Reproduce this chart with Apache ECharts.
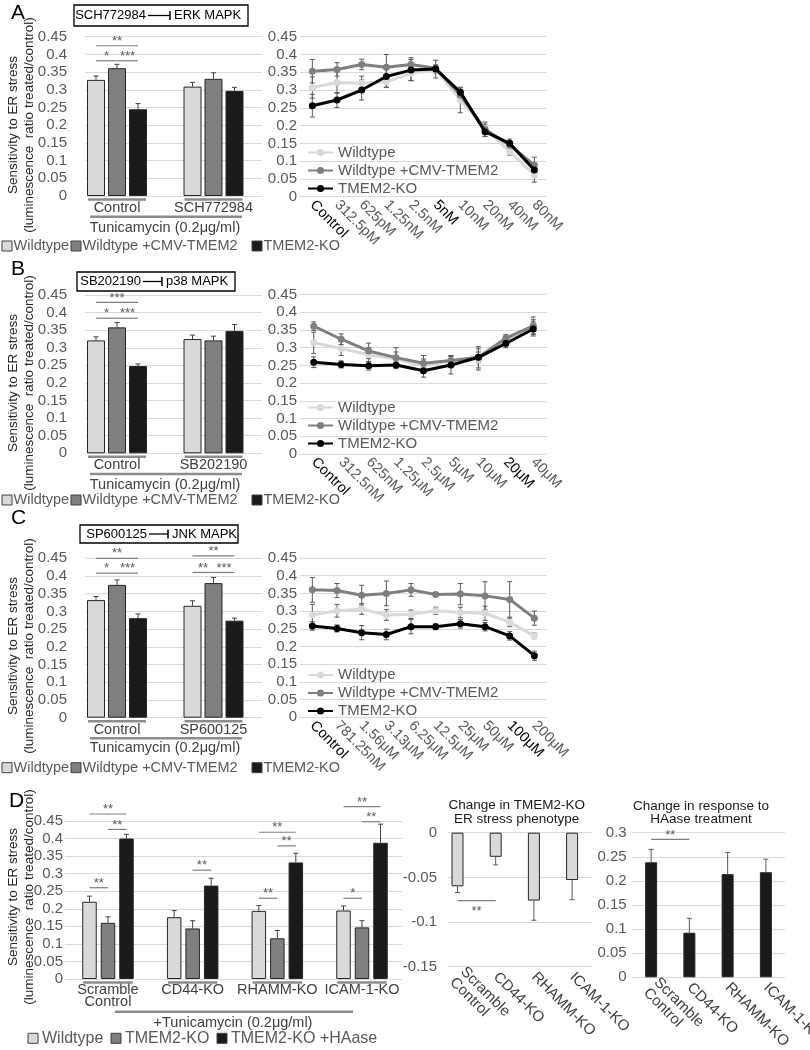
<!DOCTYPE html>
<html><head><meta charset="utf-8">
<script src="https://cdn.jsdelivr.net/npm/echarts@6/dist/echarts.min.js"></script>
<style>html,body{margin:0;padding:0;background:#fff}#c{width:810px;height:1050px}</style>
</head><body><div id="c"></div>
<script>
// ---------------- DATA ----------------
const groupNames = ['Wildtype', 'Wildtype +CMV-TMEM2', 'TMEM2-KO'];
const groupNamesD = ['Wildtype', 'TMEM2-KO', 'TMEM2-KO +HAase'];

// Panel A
const catsBarA = ['Control', 'SCH772984'];
const barA_WT = [0.328, 0.309],  barA_WT_err = [0.011, 0.012];
const barA_CMV = [0.361, 0.331], barA_CMV_err = [0.011, 0.017];
const barA_KO = [0.245, 0.297],  barA_KO_err = [0.016, 0.010];
const catsLineA = ['Control','312.5pM','625pM','1.25nM','2.5nM','5nM','10nM','20nM','40nM','80nM'];
const darkLineA = [0, 5];
const lineA_WT  = [0.307,0.321,0.319,0.323,0.347,0.358,0.272,0.192,0.127,0.061];
const lineA_WT_err  = [0.030,0.030,0.020,0.015,0.020,0.010,0.036,0.012,0.010,0.020];
const lineA_CMV = [0.353,0.358,0.372,0.364,0.372,0.361,0.286,0.190,0.145,0.089];
const lineA_CMV_err = [0.033,0.019,0.015,0.036,0.019,0.010,0.015,0.020,0.010,0.022];
const lineA_KO  = [0.256,0.272,0.300,0.338,0.356,0.359,0.294,0.183,0.150,0.075];
const lineA_KO_err  = [0.032,0.021,0.028,0.031,0.030,0.025,0.012,0.014,0.012,0.012];

// Panel B
const catsBarB = ['Control', 'SB202190'];
const barB_WT = [0.321, 0.325],  barB_WT_err = [0.010, 0.011];
const barB_CMV = [0.358, 0.321], barB_CMV_err = [0.014, 0.012];
const barB_KO = [0.248, 0.348],  barB_KO_err = [0.006, 0.018];
const catsLineB = ['Control','312.5nM','625nM','1.25μM','2.5μM','5μM','10μM','20μM','40μM'];
const darkLineB = [0, 7];
const lineB_WT  = [0.314,0.298,0.280,0.268,0.248,0.263,0.267,0.322,0.359];
const lineB_WT_err  = [0.030,0.020,0.020,0.020,0.020,0.015,0.030,0.010,0.020];
const lineB_CMV = [0.361,0.324,0.291,0.272,0.256,0.264,0.273,0.327,0.362];
const lineB_CMV_err = [0.012,0.015,0.022,0.028,0.022,0.012,0.015,0.010,0.025];
const lineB_KO  = [0.259,0.253,0.249,0.251,0.235,0.251,0.273,0.312,0.353];
const lineB_KO_err  = [0.015,0.010,0.012,0.010,0.018,0.025,0.030,0.012,0.020];

// Panel C
const catsBarC = ['Control', 'SP600125'];
const barC_WT = [0.332, 0.316],  barC_WT_err = [0.010, 0.014];
const barC_CMV = [0.375, 0.380], barC_CMV_err = [0.014, 0.016];
const barC_KO = [0.281, 0.274],  barC_KO_err = [0.012, 0.007];
const catsLineC = ['Control','781.25nM','1.56μM','3.13μM','6.25μM','12.5μM','25μM','50μM','100μM','200μM'];
const darkLineC = [0, 8];
const lineC_WT  = [0.289,0.301,0.306,0.289,0.291,0.301,0.296,0.294,0.268,0.230];
const lineC_WT_err  = [0.030,0.018,0.015,0.015,0.012,0.010,0.015,0.020,0.012,0.008];
const lineC_CMV = [0.360,0.358,0.345,0.350,0.360,0.347,0.348,0.343,0.333,0.280];
const lineC_CMV_err = [0.035,0.020,0.028,0.035,0.018,0.005,0.030,0.040,0.050,0.020];
const lineC_KO  = [0.258,0.251,0.239,0.234,0.256,0.256,0.264,0.256,0.230,0.174];
const lineC_KO_err  = [0.012,0.010,0.020,0.015,0.020,0.008,0.012,0.012,0.012,0.013];

// Panel D
const catsD = ['Scramble\nControl', 'CD44-KO', 'RHAMM-KO', 'ICAM-1-KO'];
const barD_WT = [0.220, 0.176, 0.194, 0.195],    barD_WT_err = [0.016, 0.019, 0.015, 0.013];
const barD_KO = [0.160, 0.144, 0.116, 0.147],    barD_KO_err = [0.017, 0.022, 0.022, 0.019];
const barD_HA = [0.400, 0.266, 0.332, 0.388],    barD_HA_err = [0.012, 0.021, 0.026, 0.053];
const changeKO = [-0.060, -0.027, -0.076, -0.053], changeKO_err = [0.007, 0.009, 0.022, 0.022];
const changeHA = [0.2385, 0.0925, 0.214, 0.218],  changeHA_err = [0.027, 0.030, 0.045, 0.027];

// Significance marks: [catFrom, barFrom, catTo, barTo, level, text]
const sigA = [[0,0,0,2,0.4245,'**'],[0,0,0,1,0.382,'*'],[0,1,0,2,0.382,'***']];
const sigB = [[0,0,0,2,0.429,'***'],[0,0,0,1,0.384,'*'],[0,1,0,2,0.384,'***']];
const sigC = [[0,0,0,2,0.45,'**'],[0,0,0,1,0.408,'*'],[0,1,0,2,0.408,'***'],
              [1,0,1,2,0.457,'**'],[1,0,1,1,0.41,'**'],[1,1,1,2,0.41,'***']];
const sigD = [[0,0,0,2,0.47,'**'],[0,1,0,2,0.426,'**'],[0,0,0,1,0.26,'**'],[1,1,1,2,0.31,'**'],
              [2,0,2,2,0.418,'**'],[2,1,2,2,0.379,'**'],[2,0,2,1,0.23,'**'],
              [3,0,3,2,0.491,'**'],[3,1,3,2,0.448,'**'],[3,0,3,1,0.23,'*']];
const sigDmid = [[0,0,1,0,-0.076,'**']];
const sigDright = [[0,0,1,0,0.286,'**']];

// ---------------- BUILD ----------------
const FONT = '"Liberation Sans", Arial, sans-serif';
const C_WT = '#d9d9d9', C_CMV = '#7f7f7f', C_KO = '#1a1a1a';
const grids = [], xAxes = [], yAxes = [], series = [], legends = [];

function errRenderer(off, cap, color, both) {
  return function (params, api) {
    const c = api.value(0), v = api.value(1), e = api.value(2);
    const base = api.coord([c, v]);
    const x = base[0] + off;
    const sgn = v < 0 ? -1 : 1;
    const top = api.coord([c, both ? v + e : v + sgn * e])[1];
    const bot = both ? api.coord([c, v - e])[1] : base[1];
    const st = {stroke: color, lineWidth: 1};
    const kids = [
      {type: 'line', shape: {x1: x, y1: bot, x2: x, y2: top}, style: st},
      {type: 'line', shape: {x1: x - cap, y1: top, x2: x + cap, y2: top}, style: st}
    ];
    if (both) kids.push({type: 'line', shape: {x1: x - cap, y1: bot, x2: x + cap, y2: bot}, style: st});
    return {type: 'group', children: kids};
  };
}

function barPanel(o) {
  const h = o.bottom - o.top;
  const gl = grids.length;
  grids.push({left: o.glLeft, top: o.top, width: o.glRight - o.glLeft, height: h, containLabel: false, outerBoundsMode: 'none'});
  xAxes.push({gridIndex: gl, type: 'value', min: 0, max: 1, show: false});
  yAxes.push({gridIndex: gl, type: 'value', min: o.min, max: o.max, interval: o.interval,
    axisLine: {show: false}, axisTick: {show: false},
    splitLine: {show: true, lineStyle: {color: '#d9d9d9', width: 1}},
    axisLabel: {fontFamily: FONT, fontSize: 15, color: '#595959', margin: o.tickMargin}});
  const gb = grids.length;
  grids.push({left: o.gbLeft, top: o.top, width: o.gbRight - o.gbLeft, height: h, containLabel: false, outerBoundsMode: 'none'});
  const xb = xAxes.length;
  xAxes.push({gridIndex: gb, type: 'category', data: o.cats,
    axisLine: {show: false, onZero: false}, axisTick: {show: false}, splitLine: {show: false},
    axisLabel: Object.assign({interval: 0, fontFamily: FONT, fontSize: 14.5, color: '#404040',
      margin: o.catMargin, lineHeight: o.catLH || 15}, o.catLabel || {})});
  const yb = yAxes.length;
  yAxes.push({gridIndex: gb, type: 'value', min: o.min, max: o.max, show: false, splitLine: {show: false}});
  const n = o.vals.length;
  o.vals.forEach((vals, k) => {
    series.push({type: 'bar', name: o.id + '|' + o.names[k], xAxisIndex: xb, yAxisIndex: yb, data: vals,
      barWidth: o.bw, barGap: ((o.step / o.bw - 1) * 100) + '%', animation: false, z: 2,
      itemStyle: {color: o.colors[k], borderColor: o.border || '#262626', borderWidth: 1}});
    const off = (k - (n - 1) / 2) * o.step;
    series.push({type: 'custom', name: o.id + '|err' + k, xAxisIndex: xb, yAxisIndex: yb, z: 4, animation: false, silent: true,
      data: vals.map((v, i) => [i, v, o.errs[k][i]]),
      renderItem: errRenderer(off, 2.5, o.errColor || '#404040', false)});
  });
  return {xb: xb, yb: yb, n: n, step: o.step, bw: o.bw, bottom: o.bottom, cats: o.cats.length};
}

function linePanel(o) {
  const g = grids.length;
  grids.push({left: o.left, top: o.top, width: o.right - o.left, height: o.bottom - o.top, containLabel: false, outerBoundsMode: 'none'});
  const x = xAxes.length;
  xAxes.push({gridIndex: g, type: 'category', boundaryGap: true,
    data: o.cats.map((c, i) => o.dark.indexOf(i) >= 0 ? {value: c, textStyle: {color: '#000'}} : c),
    axisLine: {show: false}, axisTick: {show: false}, splitLine: {show: false},
    axisLabel: {interval: 0, rotate: -45, fontFamily: FONT, fontSize: 14.5, color: '#595959', margin: 6}});
  const y = yAxes.length;
  yAxes.push({gridIndex: g, type: 'value', min: 0, max: 0.45, interval: 0.05,
    axisLine: {show: false}, axisTick: {show: false},
    splitLine: {show: true, lineStyle: {color: '#d9d9d9', width: 1}},
    axisLabel: {fontFamily: FONT, fontSize: 15, color: '#595959', margin: 3}});
  const names = [];
  o.lines.forEach((Ln, k) => {
    const nm = o.id + '|' + Ln.name;
    names.push(nm);
    series.push({type: 'custom', name: o.id + '|e' + k, xAxisIndex: x, yAxisIndex: y, z: 2, animation: false, silent: true,
      data: Ln.vals.map((v, i) => [i, v, Ln.errs[i]]),
      renderItem: errRenderer(0, 2.5, '#595959', true)});
    series.push({type: 'line', name: nm, xAxisIndex: x, yAxisIndex: y, data: Ln.vals, animation: false,
      symbol: 'circle', symbolSize: 7, z: 3 + k,
      lineStyle: {color: Ln.color, width: 3}, itemStyle: {color: Ln.color}});
  });
  legends.push({data: names, orient: 'vertical', left: o.legLeft, top: o.legTop, itemWidth: 25, itemHeight: 9, itemGap: 3,
    selectedMode: false, padding: 0,
    textStyle: {fontFamily: FONT, fontSize: 15, color: '#595959', lineHeight: 15},
    formatter: function (nm) { return nm.split('|')[1]; }});
}

const barCommon = {min: 0, max: 0.45, interval: 0.05, glLeft: 85, glRight: 262, gbLeft: 68.75, gbRight: 261.75,
  bw: 18, step: 21, tickMargin: 18, catMargin: 4.5, colors: [C_WT, C_CMV, C_KO], names: groupNames};

const pA = barPanel(Object.assign({}, barCommon, {id: 'Abar', top: 36.7, bottom: 196, cats: catsBarA,
  vals: [barA_WT, barA_CMV, barA_KO], errs: [barA_WT_err, barA_CMV_err, barA_KO_err]}));
const pB = barPanel(Object.assign({}, barCommon, {id: 'Bbar', top: 295, bottom: 453.3, cats: catsBarB,
  vals: [barB_WT, barB_CMV, barB_KO], errs: [barB_WT_err, barB_CMV_err, barB_KO_err]}));
const pC = barPanel(Object.assign({}, barCommon, {id: 'Cbar', top: 558.3, bottom: 717.7, cats: catsBarC,
  vals: [barC_WT, barC_CMV, barC_KO], errs: [barC_WT_err, barC_CMV_err, barC_KO_err]}));
const pD = barPanel({id: 'Dbar', top: 821, bottom: 979, min: 0, max: 0.45, interval: 0.05,
  glLeft: 65, glRight: 402, gbLeft: 65.65, gbRight: 404.35, bw: 14.5, step: 18.5, tickMargin: 2,
  catMargin: 5, catLH: 12, colors: [C_WT, C_CMV, C_KO], names: groupNamesD, cats: catsD,
  vals: [barD_WT, barD_KO, barD_HA], errs: [barD_WT_err, barD_KO_err, barD_HA_err]});
const pDm = barPanel({id: 'Dmid', top: 832.7, bottom: 966.7, min: -0.15, max: 0, interval: 0.05,
  glLeft: 448, glRight: 591.7, gbLeft: 438.4, gbRight: 591.2, bw: 12, step: 12, tickMargin: 11,
  catMargin: 8, catLH: 15, catLabel: {rotate: -45, fontSize: 15, color: '#404040'},
  colors: [C_WT], names: ['Change in TMEM2-KO ER stress phenotype'], cats: catsD,
  vals: [changeKO], errs: [changeKO_err], errColor: '#595959'});
const pDr = barPanel({id: 'Dright', top: 832.7, bottom: 977.3, min: 0, max: 0.3, interval: 0.05,
  glLeft: 631.7, glRight: 785, gbLeft: 632, gbRight: 785, bw: 12, step: 12, tickMargin: 5,
  catMargin: 8, catLH: 15, catLabel: {rotate: -45, fontSize: 15, color: '#404040'},
  colors: [C_KO], names: ['Change in response to HAase treatment'], cats: catsD,
  vals: [changeHA], errs: [changeHA_err], errColor: '#595959'});

linePanel({id: 'Aline', top: 36.7, bottom: 196.7, left: 300, right: 546.7, cats: catsLineA, dark: darkLineA,
  legLeft: 307, legTop: 145,
  lines: [{name: groupNames[0], vals: lineA_WT, errs: lineA_WT_err, color: C_WT},
          {name: groupNames[1], vals: lineA_CMV, errs: lineA_CMV_err, color: C_CMV},
          {name: groupNames[2], vals: lineA_KO, errs: lineA_KO_err, color: '#000'}]});
linePanel({id: 'Bline', top: 294.6, bottom: 454, left: 300, right: 547, cats: catsLineB, dark: darkLineB,
  legLeft: 307, legTop: 400,
  lines: [{name: groupNames[0], vals: lineB_WT, errs: lineB_WT_err, color: C_WT},
          {name: groupNames[1], vals: lineB_CMV, errs: lineB_CMV_err, color: C_CMV},
          {name: groupNames[2], vals: lineB_KO, errs: lineB_KO_err, color: '#000'}]});
linePanel({id: 'Cline', top: 558, bottom: 717.3, left: 300, right: 546.7, cats: catsLineC, dark: darkLineC,
  legLeft: 307, legTop: 667.5,
  lines: [{name: groupNames[0], vals: lineC_WT, errs: lineC_WT_err, color: C_WT},
          {name: groupNames[1], vals: lineC_CMV, errs: lineC_CMV_err, color: C_CMV},
          {name: groupNames[2], vals: lineC_KO, errs: lineC_KO_err, color: '#000'}]});

const chart = echarts.init(document.getElementById('c'), null, {renderer: 'canvas', width: 810, height: 1050});
chart.setOption({animation: false, backgroundColor: '#fff', grid: grids, xAxis: xAxes, yAxis: yAxes, series: series, legend: legends});

// ---------------- ANNOTATIONS ----------------
const G = [];
function T(x, y, text, st) {
  return {type: 'text', x: x, y: y, silent: true, z: 10,
    style: Object.assign({text: text, fontFamily: FONT, fontSize: 15, fill: '#404040', align: 'left', verticalAlign: 'middle'}, st || {})};
}
function Ln(x1, y1, x2, y2, stroke, w) {
  return {type: 'line', silent: true, z: 10, shape: {x1: x1, y1: y1, x2: x2, y2: y2}, style: {stroke: stroke, lineWidth: w}};
}
function Rc(x, y, w, h, fill, stroke, lw) {
  return {type: 'rect', silent: true, z: 10, shape: {x: x, y: y, width: w, height: h}, style: {fill: fill, stroke: stroke, lineWidth: lw}};
}
function px(p, cat, val) { return chart.convertToPixel({xAxisIndex: p.xb, yAxisIndex: p.yb}, [cat, val]); }

function sig(p, list, below) {
  list.forEach(s => {
    const a = px(p, s[0], s[4]), b = px(p, s[2], s[4]);
    const xa = a[0] + (s[1] - (p.n - 1) / 2) * p.step;
    const xb = b[0] + (s[3] - (p.n - 1) / 2) * p.step;
    G.push(Ln(xa, a[1], xb, a[1], '#7f7f7f', 1.2));
    G.push(T((xa + xb) / 2, below ? a[1] + 10.8 : a[1] - 4.4, s[5], {fontSize: 13, fill: '#595959', align: 'center'}));
  });
}
function underlines(p) {
  for (let c = 0; c < p.cats; c++) {
    const m = px(p, c, 0);
    const half = (p.n - 1) / 2 * p.step + p.bw / 2 - 1;
    G.push(Ln(m[0] - half, p.bottom + 3.5, m[0] + half, p.bottom + 3.5, '#8c8c8c', 2.5));
  }
}
function box(x, y, w, h, lx1, lx2, t1, t2) {
  const cy = y + h / 2;
  G.push(Rc(x, y, w, h, '#fff', '#000', 1.3));
  G.push(T(lx1 - 2, cy, t1, {fontSize: 13, fill: '#000', align: 'right'}));
  G.push(Ln(lx1, cy, lx2, cy, '#000', 1.3));
  G.push(Ln(lx2, cy - 4.5, lx2, cy + 4.5, '#000', 1.5));
  G.push(T(lx2 + 4, cy, t2, {fontSize: 13, fill: '#000'}));
}
function yTitle(x, y) {
  G.push(T(x, y, 'Sensitivity to ER stress\n(luminescence  ratio treated/control)',
    {fontSize: 13.5, lineHeight: 16, fill: '#262626', align: 'center'}));
  G[G.length - 1].rotation = Math.PI / 2;
}
function barLegend(y, xs, names, colors, fs, gap) {
  names.forEach((n, i) => {
    G.push(Rc(xs[i], y - 5, 10, 10, colors[i], '#404040', 1));
    G.push(T(xs[i] + gap, y, n, {fontSize: fs, fill: '#595959'}));
  });
}

// panel letters
G.push(T(11, 13.5, 'A', {fontSize: 21, fill: '#000'}));
G.push(T(11, 269.5, 'B', {fontSize: 21, fill: '#000'}));
G.push(T(11, 518.5, 'C', {fontSize: 21, fill: '#000'}));
G.push(T(9, 801.5, 'D', {fontSize: 21, fill: '#000'}));

// inhibitor boxes
box(74, 5, 174, 21, 148, 170, 'SCH772984', 'ERK MAPK');
box(77, 272, 158, 19, 143, 162, 'SB202190', 'p38 MAPK');
box(80, 525, 158, 18, 149, 168, 'SP600125', 'JNK MAPK');

// axis titles
yTitle(21, 125); yTitle(21, 383); yTitle(21, 646); yTitle(21, 897);

// group underlines, treatment lines
[pA, pB, pC, pD].forEach(underlines);
G.push(Ln(90, 216.7, 242, 216.7, '#8c8c8c', 2.5)); G.push(T(165, 228, 'Tunicamycin (0.2μg/ml)', {align: 'center', fontSize: 14.5}));
G.push(Ln(90, 474, 242, 474, '#8c8c8c', 2.5));     G.push(T(165, 485, 'Tunicamycin (0.2μg/ml)', {align: 'center', fontSize: 14.5}));
G.push(Ln(90, 738.3, 242, 738.3, '#8c8c8c', 2.5)); G.push(T(165, 748.3, 'Tunicamycin (0.2μg/ml)', {align: 'center', fontSize: 14.5}));
G.push(Ln(115, 1011.7, 353, 1011.7, '#8c8c8c', 2.5)); G.push(T(233, 1023.3, '+Tunicamycin (0.2μg/ml)', {align: 'center', fontSize: 14.5}));

// bar legends
barLegend(246, [2, 71, 252], groupNames, [C_WT, C_CMV, C_KO], 14.5, 11.5);
barLegend(500, [2, 71, 252], groupNames, [C_WT, C_CMV, C_KO], 14.5, 11.5);
barLegend(767.7, [2, 71, 252], groupNames, [C_WT, C_CMV, C_KO], 14.5, 11.5);
barLegend(1038.3, [28, 111, 217], groupNamesD, [C_WT, C_CMV, C_KO], 16, 14);

// D titles
G.push(T(516.7, 812, 'Change in TMEM2-KO\nER stress phenotype', {align: 'center', fontSize: 13.5, lineHeight: 14.3, fill: '#1a1a1a'}));
G.push(T(701, 813, 'Change in response to\nHAase treatment', {align: 'center', fontSize: 13.5, lineHeight: 12.6, fill: '#1a1a1a'}));

// significance
sig(pA, sigA); sig(pB, sigB); sig(pC, sigC); sig(pD, sigD);
sig(pDm, sigDmid, true); sig(pDr, sigDright);

chart.setOption({graphic: G});
</script>
</body></html>
